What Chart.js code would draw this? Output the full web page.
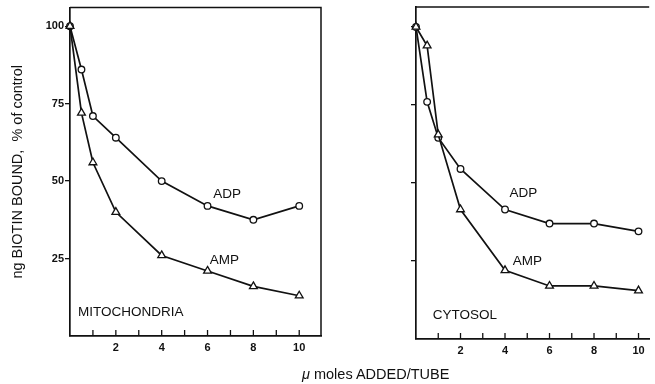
<!DOCTYPE html>
<html>
<head>
<meta charset="utf-8">
<script src="https://cdn.jsdelivr.net/npm/chart.js"></script>
<style>
    body { margin: 0; background: #fff; width: 655px; height: 384px; overflow: hidden; position: relative; font-family: "Liberation Sans", Arial, sans-serif; }
    .panel { position: absolute; top: 0; }
    #mito-wrap { left: 0; }
    #cyto-wrap { left: 330px; }
    #x-title { position: absolute; left: 302px; top: 366px; font-size: 14.5px; color: #111; white-space: nowrap; }
</style>
</head>
<body>
<div class="panel" id="mito-wrap"><canvas id="mito-chart" width="330" height="384"></canvas></div>
<div class="panel" id="cyto-wrap"><canvas id="cyto-chart" width="325" height="384"></canvas></div>
<div id="x-title"><i>&mu;</i> moles ADDED/TUBE</div>

<script>
    // valores
    var doses = [0, 0.5, 1, 2, 4, 6, 8, 10];
    var mitoADP = [100, 86, 71, 64, 50, 42, 37.5, 42];
    var mitoAMP = [100, 72, 56, 40, 26, 21, 16, 13];
    var cytoADP = [100, 76, 64.5, 54.5, 41.5, 37, 37, 34.5];
    var cytoAMP = [100, 94, 65.5, 41.5, 22, 17, 17, 15.5];
    var yTicks = [25, 50, 75, 100];
    var xTicks = [1, 2, 3, 4, 5, 6, 7, 8, 9, 10];
    var xTickLabels = [2, 4, 6, 8, 10];

    var ink = '#111';
    var family = '"Liberation Sans", Arial, sans-serif';

    function toPoints(xs, ys) {
        return xs.map(function (x, i) { return { x: x, y: ys[i] }; });
    }

    // marco, marcas hacia dentro en el eje x y textos
    var extrasPlugin = {
        id: 'extras',
        afterDraw: function (chart, args, opts) {
            var ctx = chart.ctx;
            var area = chart.chartArea;
            var xs = chart.scales.x, ys = chart.scales.y;
            ctx.save();
            ctx.strokeStyle = ink;
            ctx.lineWidth = 1.5;
            ctx.beginPath();
            ctx.moveTo(area.left, area.top);
            ctx.lineTo(area.right, area.top);
            if (opts.rightBorder) {
                ctx.lineTo(area.right, area.bottom);
            }
            ctx.stroke();

            ctx.lineWidth = 1.3;
            xs.ticks.forEach(function (t) {
                var px = xs.getPixelForValue(t.value);
                ctx.beginPath();
                ctx.moveTo(px, area.bottom);
                ctx.lineTo(px, area.bottom - 6);
                ctx.stroke();
            });

            ctx.fillStyle = ink;
            ctx.font = '13.5px ' + family;
            ctx.textBaseline = 'middle';
            ctx.textAlign = 'left';
            (opts.labels || []).forEach(function (l) {
                ctx.fillText(l.text, xs.getPixelForValue(l.x), ys.getPixelForValue(l.y));
            });
            ctx.restore();
        }
    };

    function makePanel(canvasId, adp, amp, cfg) {
        var ctx = document.getElementById(canvasId).getContext('2d');
        return new Chart(ctx, {
            type: 'line',
            data: {
                datasets: [{
                    label: 'AMP',
                    data: toPoints(doses, amp),
                    borderColor: ink,
                    borderWidth: 1.7,
                    pointStyle: 'triangle',
                    pointRadius: 4.5,
                    pointBackgroundColor: '#fff',
                    pointBorderColor: ink,
                    pointBorderWidth: 1.3,
                    tension: 0,
                    clip: false
                }, {
                    label: 'ADP',
                    data: toPoints(doses, adp),
                    borderColor: ink,
                    borderWidth: 1.7,
                    pointStyle: 'circle',
                    pointRadius: 3.3,
                    pointBackgroundColor: '#fff',
                    pointBorderColor: ink,
                    pointBorderWidth: 1.3,
                    tension: 0,
                    clip: false
                }]
            },
            options: {
                responsive: false,
                animation: false,
                devicePixelRatio: 1,
                layout: { padding: { top: cfg.top, right: cfg.right, left: 0, bottom: 0 } },
                plugins: {
                    legend: { display: false },
                    tooltip: { enabled: false },
                    extras: { rightBorder: cfg.rightBorder, labels: cfg.labels }
                },
                scales: {
                    x: {
                        type: 'linear',
                        min: 0,
                        max: cfg.xMax,
                        afterFit: function (s) { s.height = cfg.bottomSpace; },
                        afterBuildTicks: function (s) { s.ticks = xTicks.map(function (v) { return { value: v }; }); },
                        grid: { drawOnChartArea: false, drawTicks: false },
                        border: { display: true, color: ink, width: 1.7 },
                        ticks: {
                            autoSkip: false,
                            maxRotation: 0,
                            padding: 5,
                            color: ink,
                            font: { family: family, size: 11, weight: 'bold' },
                            callback: function (v) { return xTickLabels.indexOf(v) >= 0 ? String(v) : ''; }
                        }
                    },
                    y: {
                        type: 'linear',
                        min: 0,
                        max: cfg.yMax,
                        afterFit: function (s) { s.width = cfg.leftSpace; },
                        afterBuildTicks: function (s) { s.ticks = yTicks.map(function (v) { return { value: v }; }); },
                        grid: { drawOnChartArea: false, drawTicks: true, tickLength: 5, color: ink, lineWidth: 1.3 },
                        border: { display: true, color: ink, width: 1.7 },
                        ticks: {
                            display: cfg.yLabels,
                            padding: 1,
                            color: ink,
                            font: { family: family, size: 11, weight: 'bold' }
                        },
                        title: {
                            display: cfg.yLabels,
                            text: 'ng BIOTIN BOUND,  % of control',
                            color: ink,
                            font: { family: family, size: 14.5 },
                            padding: { top: 9, bottom: 0 }
                        }
                    }
                }
            },
            plugins: [extrasPlugin]
        });
    }

    makePanel('mito-chart', mitoADP, mitoAMP, {
        top: 6, right: 9, leftSpace: 70, bottomSpace: 48,
        xMax: 10.95, yMax: 106, yLabels: true, rightBorder: true,
        labels: [
            { text: 'ADP', x: 6.25, y: 45.8 },
            { text: 'AMP', x: 6.1, y: 24.4 },
            { text: 'MITOCHONDRIA', x: 0.35, y: 7.7 }
        ]
    });

    makePanel('cyto-chart', cytoADP, cytoAMP, {
        top: 7, right: 0, leftSpace: 86, bottomSpace: 45,
        xMax: 10.48, yMax: 106.4, yLabels: false, rightBorder: false,
        labels: [
            { text: 'ADP', x: 4.2, y: 46.8 },
            { text: 'AMP', x: 4.35, y: 25 },
            { text: 'CYTOSOL', x: 0.75, y: 7.7 }
        ]
    });
</script>
</body>
</html>
